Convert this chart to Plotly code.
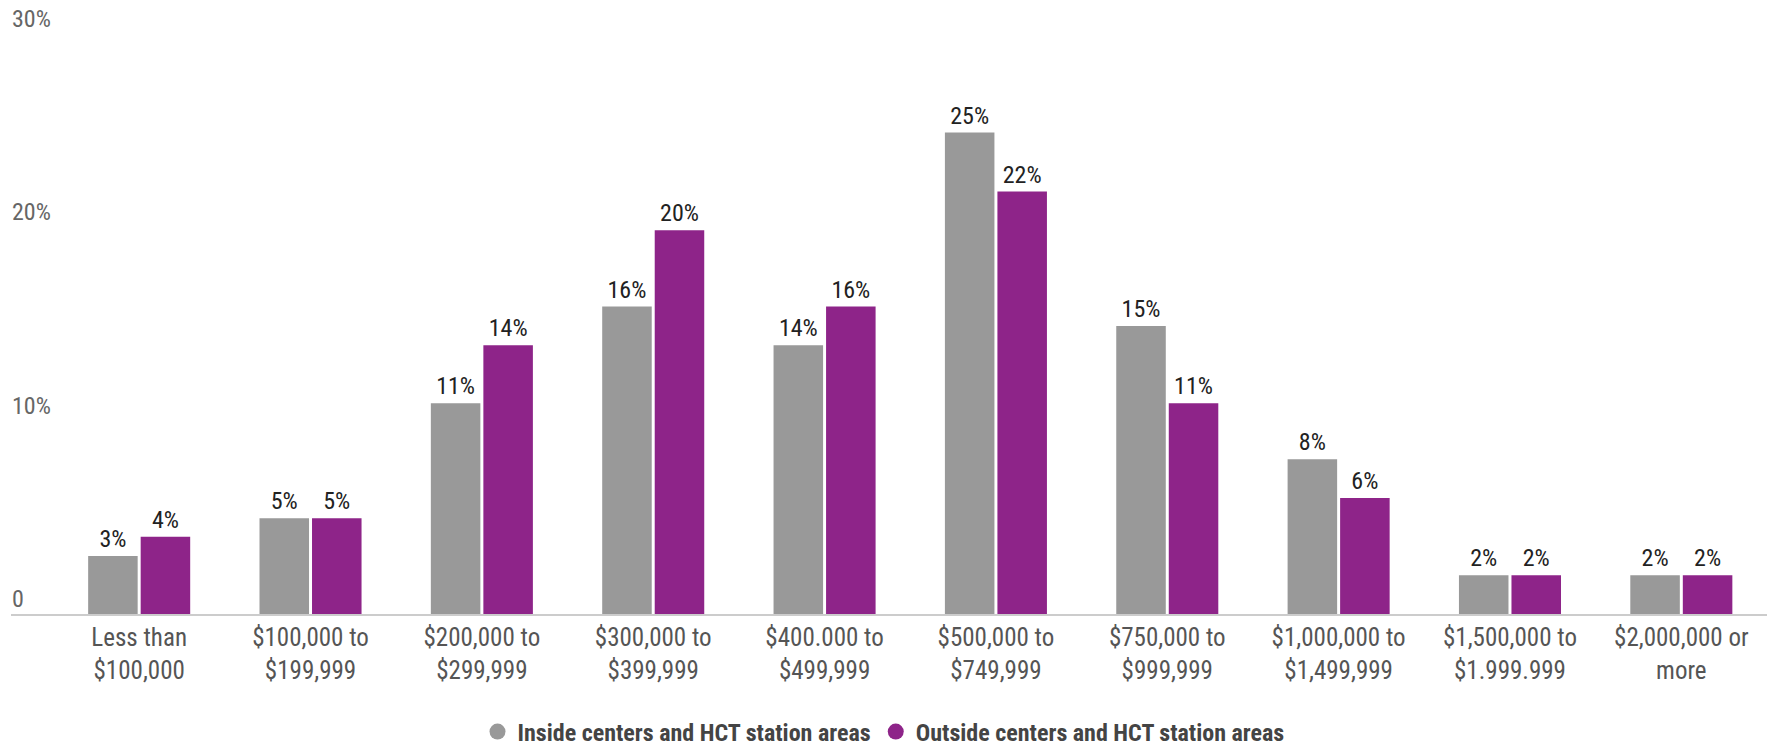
import plotly.graph_objects as go

categories = ["Less than<br>$100,000", "$100,000 to<br>$199,999", "$200,000 to<br>$299,999",
              "$300,000 to<br>$399,999", "$400.000 to<br>$499,999", "$500,000 to<br>$749,999",
              "$750,000 to<br>$999,999", "$1,000,000 to<br>$1,499,999", "$1,500,000 to<br>$1.999.999",
              "$2,000,000 or<br>more"]
inside_vals = [3.0, 4.95, 10.9, 15.9, 13.9, 24.9, 14.9, 8.0, 2.0, 2.0]
outside_vals = [4.0, 4.95, 13.9, 19.85, 15.9, 21.85, 10.9, 6.0, 2.0, 2.0]
inside_labels = ["3%", "5%", "11%", "16%", "14%", "25%", "15%", "8%", "2%", "2%"]
outside_labels = ["4%", "5%", "14%", "20%", "16%", "22%", "11%", "6%", "2%", "2%"]
series_names = ["Inside centers and HCT station areas", "Outside centers and HCT station areas"]
y_tickvals = [0, 10, 20, 30]
y_ticktext = ["0", "10%", "20%", "30%"]

GRAY = "#999999"
PURPLE = "#8E2489"
FONT = "Liberation Sans Narrow, Roboto Condensed, Arial Narrow, sans-serif"

fig = go.Figure()
fig.add_trace(go.Bar(x=categories, y=inside_vals, text=inside_labels, textposition="outside",
                     marker=dict(color=GRAY, line=dict(width=0)), name=series_names[0],
                     showlegend=False, cliponaxis=False,
                     textfont=dict(size=24, color="#222222", family=FONT)))
fig.add_trace(go.Bar(x=categories, y=outside_vals, text=outside_labels, textposition="outside",
                     marker=dict(color=PURPLE, line=dict(width=0)), name=series_names[1],
                     showlegend=False, cliponaxis=False,
                     textfont=dict(size=24, color="#222222", family=FONT)))
# legend proxies
for nm, col in zip(series_names, [GRAY, PURPLE]):
    fig.add_trace(go.Scatter(x=[None], y=[None], mode="markers", name=nm,
                             marker=dict(symbol="circle", size=20, color=col)))

# y tick labels placed above their value lines
for v, t in zip(y_tickvals, y_ticktext):
    fig.add_annotation(x=0, xref="paper", xanchor="left", xshift=-1,
                       y=v, yref="y", yanchor="bottom", yshift=-1,
                       text=t, showarrow=False,
                       font=dict(size=24, color="#666666", family=FONT))

fig.update_layout(
    width=1767, height=750,
    margin=dict(l=11, r=0, t=0, b=136, autoexpand=False),
    paper_bgcolor="white", plot_bgcolor="white",
    font=dict(family=FONT, size=25, color="#555555"),
    barmode="group", bargap=0.387, bargroupgap=0.057,
    showlegend=True,
    legend=dict(orientation="h", x=0.5, xanchor="center", xref="container",
                y=0.024, yanchor="middle", yref="container",
                font=dict(size=24, color="#444444", family=FONT, weight="bold"),
                itemsizing="trace", traceorder="normal"),
    xaxis=dict(range=[-0.748, 9.5], showline=True, linecolor="#cccccc", linewidth=2,
               showgrid=False, ticks="", tickfont=dict(size=25, color="#555555")),
    yaxis=dict(range=[0, 31.76], showticklabels=False, showgrid=False,
               zeroline=False, showline=False),
)
fig.write_html("out.html", config={"displayModeBar": False},
               post_script="document.body.style.margin='0';")
